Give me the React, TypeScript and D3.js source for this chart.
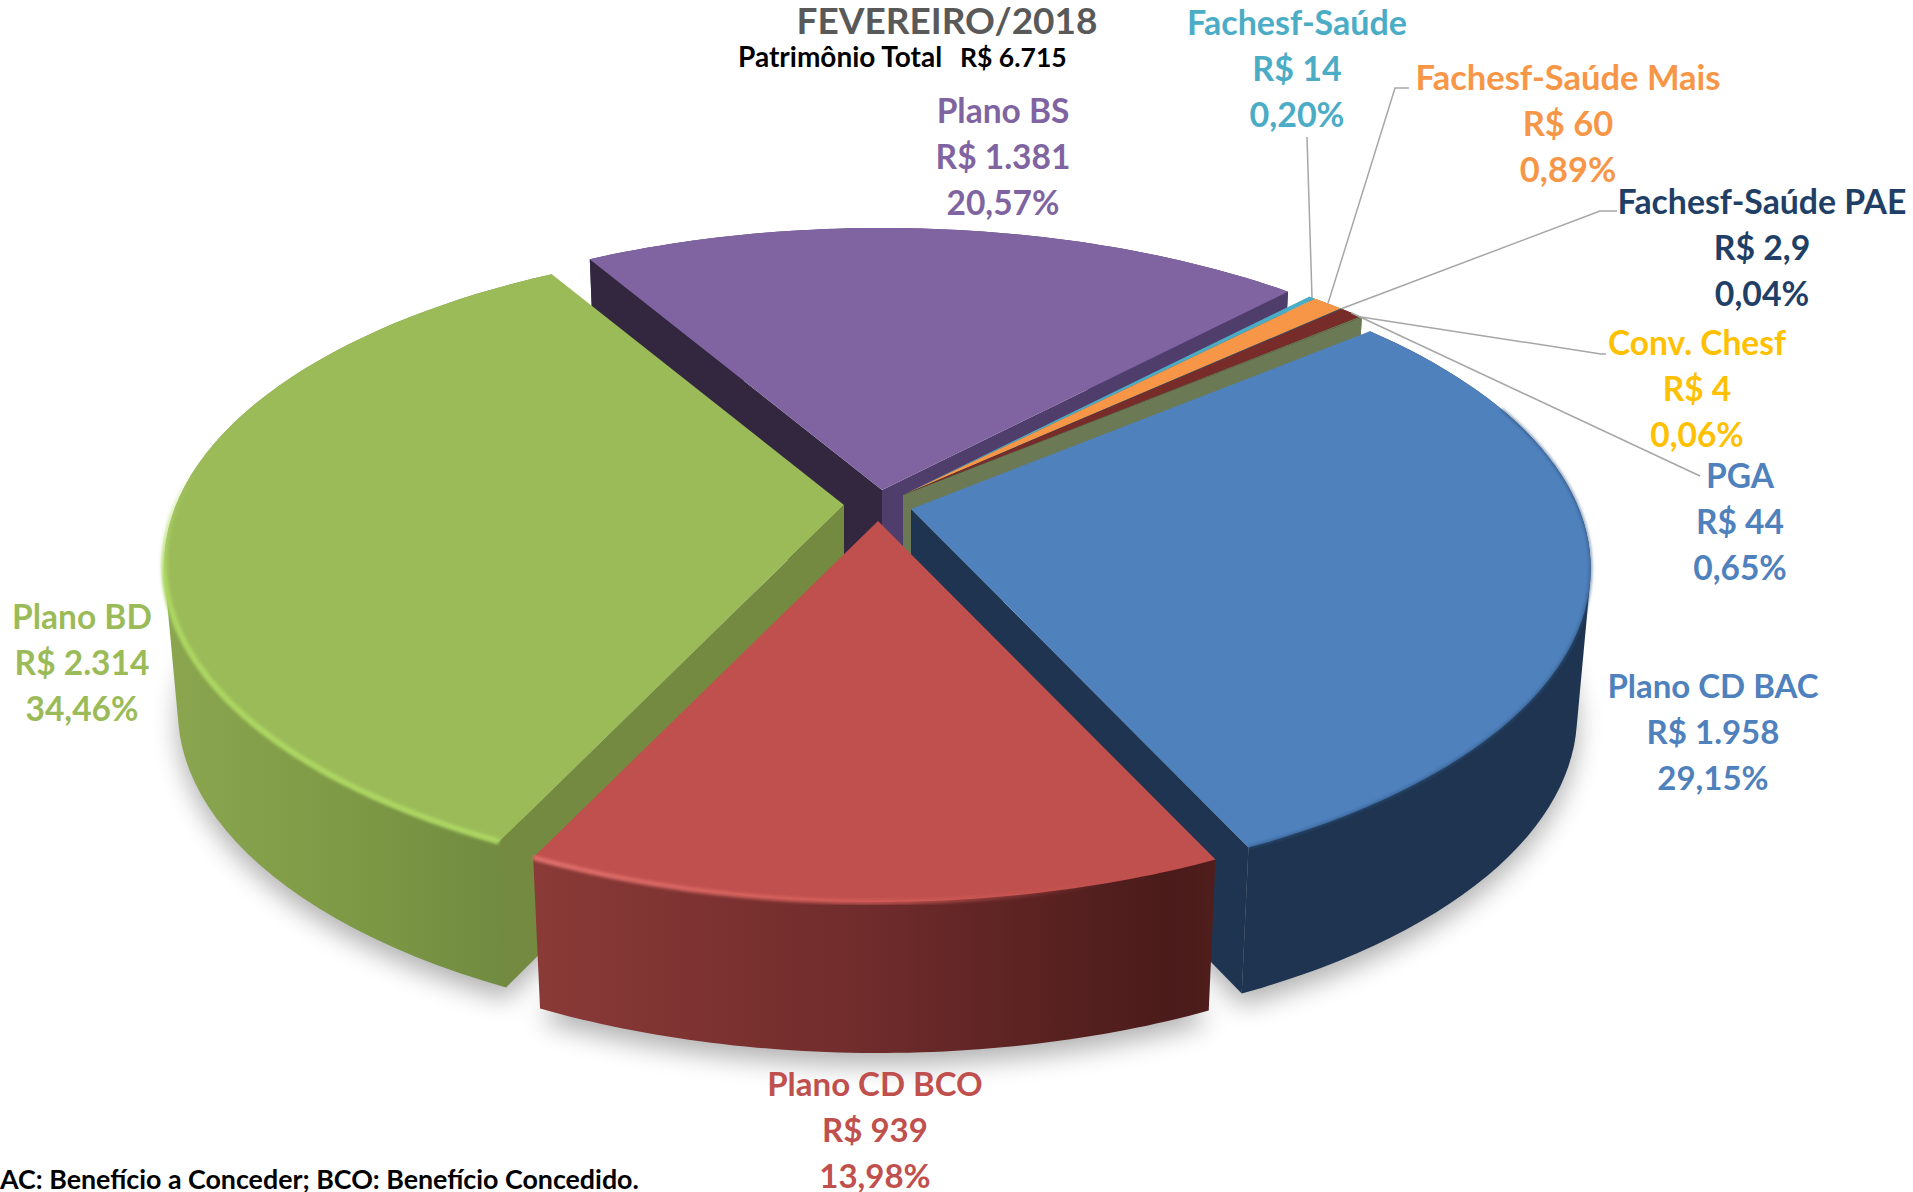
import React from "react";
import * as d3 from "d3";

const categories = ["Plano CD BAC", "Plano CD BCO", "Plano BD", "Plano BS", "Fachesf-Saúde", "Fachesf-Saúde Mais", "Fachesf-Saúde PAE", "PGA", "Conv. Chesf"];
const shares = [29.15, 13.98, 34.46, 20.57, 0.2, 0.89, 0.04, 0.65, 0.06];
const valueLabels = ["R$ 1.958", "R$ 939", "R$ 2.314", "R$ 1.381", "R$ 14", "R$ 60", "R$ 2,9", "R$ 44", "R$ 4"];
const shareLabels = ["29,15%", "13,98%", "34,46%", "20,57%", "0,20%", "0,89%", "0,04%", "0,65%", "0,06%"];
const topColors = ["#4f81bd", "#c0504d", "#9bbb59", "#8064a2", "#4bacc6", "#f79646", "#2c4d75", "#772c2a", "#6f7c55"];
const labelColors = ["#4f81bd", "#c0504d", "#9bbb59", "#8064a2", "#4bacc6", "#f79646", "#1f3f66", "#4f81bd", "#ffc000"];
const startWallColors = [null, null, "#748a40", "#32273f", null, null, null, null, null];
const endWallColors = ["#1e3450", null, null, "#4f3d6b", "#2f7f94", "#b06a2c", "#1c3250", "#4f1d1c", "#6b7a55"];
const outerWallFills = ["#1e3450", "url(#redWall)", "url(#greenWall)", "#4f3d6b", "#2f7f94", "#b06a2c", "#1c3250", "#4f1d1c", "#6b7a55"];
// apex of each exploded slice on the page, and its wall height
const apexes: [number, number][] = [[911, 509], [878, 521], [844, 505], [882, 490], [903, 495], [903, 495], [903, 495], [903, 495], [903, 495]];
const depths = [146, 151, 146, 146, 146, 146, 146, 146, 146];
// label centre x, first-line baseline, font size
const labelX = [1713, 875, 82, 1003, 1297, 1568, 1762, 1740, 1697];
const labelY = [698, 1096, 629, 123, 35, 90, 214, 488, 355];
const labelSize = [33, 33, 33.5, 33.5, 34, 34.5, 33.8, 33.5, 33.5];
// leader elbows: [elbow, end]
const leaders: { i: number; pts: [number, number][] }[] = [
  { i: 4, pts: [[1307, 137]] },
  { i: 5, pts: [[1395, 88], [1409, 88]] },
  { i: 6, pts: [[1600, 211], [1617, 211]] },
  { i: 8, pts: [[1601, 354], [1606, 354]] },
  { i: 7, pts: [[1700, 476]] },
];
const drawOrder = [3, 4, 5, 6, 7, 8, 2, 0, 1];
const frontSlices = [0, 1, 2];

const START_DEG = 50.2;
const A = 668, B = 310.5, P = 0.185, BASE_SCALE_X = 0.98;
const FONT = "Lato, 'Open Sans', sans-serif";

const pie = d3.pie<number>().sort(null).value((d) => d)
  .startAngle((START_DEG * Math.PI) / 180)
  .endAngle((START_DEG * Math.PI) / 180 + 2 * Math.PI);
const arcs = pie(shares);

type Pt = [number, number];
const project = (i: number, t: number, base = false): Pt => {
  const apex = apexes[i];
  const d = 1 + P * Math.cos(t);
  const x = (A * Math.sin(t)) / d;
  const y = (-B * Math.cos(t)) / d;
  return base
    ? [apex[0] + x * BASE_SCALE_X, apex[1] + y + depths[i]]
    : [apex[0] + x, apex[1] + y];
};
const line = d3.line<Pt>();
const samples = (a: number, b: number) => d3.range(0, 61).map((k) => a + ((b - a) * k) / 60);
const topArc = (i: number, a = arcs[i].startAngle, b = arcs[i].endAngle) => samples(a, b).map((t) => project(i, t));
const baseArc = (i: number) => samples(arcs[i].startAngle, arcs[i].endAngle).map((t) => project(i, t, true));
const topPath = (i: number) => line([apexes[i], ...topArc(i)]) + "Z";
const basePath = (i: number) => line(d3.polygonHull(baseArc(i).concat([[apexes[i][0], apexes[i][1] + depths[i]]]))!) + "Z";
const outerWall = (i: number) =>
  frontSlices.includes(i)
    ? line(d3.polygonHull([...topArc(i), ...baseArc(i)])!) + "Z"
    : line([...topArc(i), ...baseArc(i).reverse()]) + "Z";
const radialWall = (i: number, t: number) => {
  const ap = apexes[i];
  return line([ap, project(i, t), project(i, t, true), [ap[0], ap[1] + depths[i]]]) + "Z";
};
const rad = (d: number) => (d * Math.PI) / 180;

const Label = ({ i }: { i: number }) => (
  <text textAnchor="middle" fontFamily={FONT} fontWeight={700} fontSize={labelSize[i]} fill={labelColors[i]}>
    <tspan x={labelX[i]} y={labelY[i]}>{categories[i]}</tspan>
    <tspan x={labelX[i]} y={labelY[i] + 46}>{valueLabels[i]}</tspan>
    <tspan x={labelX[i]} y={labelY[i] + 92}>{shareLabels[i]}</tspan>
  </text>
);

export default function App() {
  return (
    <svg width={1913} height={1192} viewBox="0 0 1913 1192" style={{ position: "absolute", left: 0, top: 0, display: "block", background: "#fff" }}>
      <defs>
        <filter id="shadow" x="-20%" y="-20%" width="140%" height="140%"><feGaussianBlur stdDeviation="13" /></filter>
        <filter id="soft" x="-5%" y="-5%" width="110%" height="110%"><feGaussianBlur stdDeviation="1.6" /></filter>
        <linearGradient id="redWall" gradientUnits="userSpaceOnUse" x1="535" x2="1218" y1="0" y2="0">
          <stop offset="0" stopColor="#8a3a37" />
          <stop offset="0.5" stopColor="#6f2b2b" />
          <stop offset="0.93" stopColor="#4a1b1a" />
          <stop offset="1" stopColor="#4f1e1d" />
        </linearGradient>
        <linearGradient id="greenWall" gradientUnits="userSpaceOnUse" x1="165" x2="510" y1="0" y2="0">
          <stop offset="0" stopColor="#8ba64f" />
          <stop offset="0.55" stopColor="#7e9945" />
          <stop offset="1" stopColor="#708a40" />
        </linearGradient>
        <linearGradient id="redLit" gradientUnits="userSpaceOnUse" x1="535" x2="1100" y1="0" y2="0">
          <stop offset="0" stopColor="#e0706c" stopOpacity="1" />
          <stop offset="0.6" stopColor="#d9605c" stopOpacity="0.75" />
          <stop offset="1" stopColor="#d9605c" stopOpacity="0" />
        </linearGradient>
        <linearGradient id="greenLit" gradientUnits="userSpaceOnUse" x1="0" x2="0" y1="470" y2="850">
          <stop offset="0" stopColor="#acd662" stopOpacity="0" />
          <stop offset="0.3" stopColor="#acd662" stopOpacity="1" />
          <stop offset="1" stopColor="#acd662" stopOpacity="1" />
        </linearGradient>
      </defs>

      <g filter="url(#shadow)" fill="#000" opacity={0.3} transform="translate(0,12)">
        {frontSlices.map((i) => <path key={i} d={basePath(i)} />)}
      </g>

      {drawOrder.map((i) => (
        <g key={i}>
          <path d={outerWall(i)} fill={outerWallFills[i]} />
          {startWallColors[i] && <path d={radialWall(i, arcs[i].startAngle)} fill={startWallColors[i]!} />}
          {endWallColors[i] && <path d={radialWall(i, arcs[i].endAngle)} fill={endWallColors[i]!} />}
          <path d={topPath(i)} fill={topColors[i]} />
        </g>
      ))}

      <path d={line(topArc(2, arcs[2].startAngle, rad(292)))!} fill="none" stroke="url(#greenLit)" strokeWidth={6} filter="url(#soft)" />
      <path d={line(topArc(1))!} fill="none" stroke="url(#redLit)" strokeWidth={5} filter="url(#soft)" />
      <path d={line(topArc(0, rad(70), arcs[0].endAngle))!} fill="none" stroke="#2f5480" strokeWidth={3} opacity={0.6} filter="url(#soft)" />

      <g fill="none" stroke="#a6a6a6" strokeWidth={1.5}>
        {leaders.map(({ i, pts }) => (
          <path key={i} d={line([project(i, (arcs[i].startAngle + arcs[i].endAngle) / 2), ...pts])!} />
        ))}
      </g>

      {categories.map((_, i) => <Label key={i} i={i} />)}

      <text x={947} y={34} textAnchor="middle" fontFamily={FONT} fontWeight={700} fontSize={37} fill="#595959">FEVEREIRO/2018</text>
      <text x={738} y={67} fontFamily={FONT} fontWeight={700} fontSize={28} fill="#000">Patrimônio Total</text>
      <text x={960} y={67} fontFamily={FONT} fontWeight={700} fontSize={26.5} fill="#000">R$ 6.715</text>
      <text x={0} y={1189} fontFamily={FONT} fontWeight={700} fontSize={26.8} fill="#000">AC: Benefício a Conceder; BCO: Benefício Concedido.</text>
    </svg>
  );
}
